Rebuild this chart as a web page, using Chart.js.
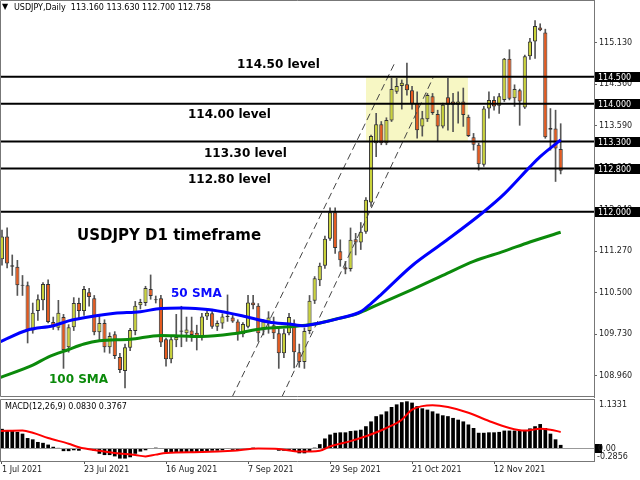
<!DOCTYPE html>
<html>
<head>
<meta charset="utf-8">
<script src="https://cdn.jsdelivr.net/npm/chart.js@4.4.1/dist/chart.umd.min.js"></script>
<style>
    html, body { margin: 0; padding: 0; background: #fff; }
    #wrap { position: relative; width: 640px; height: 480px; overflow: hidden; }
    canvas { position: absolute; left: 0; }
    #main { top: 0; }
    #macd { top: 398px; }
</style>
</head>
<body>
<div id="wrap">
    <canvas id="main" width="640" height="398"></canvas>
    <canvas id="macd" width="640" height="82"></canvas>
</div>
<script>
/* ---- data (daily bars, 1 Jul 2021 .. 1 Dec 2021, index = bar number) ---- */
var tickIdx    = [0, 16, 32, 48, 64, 80, 96];
var tickLabels = ['1 Jul 2021', '23 Jul 2021', '16 Aug 2021', '7 Sep 2021', '29 Sep 2021', '21 Oct 2021', '12 Nov 2021'];

var opens = [
    111.12, 111.54, 111.01, 110.98, 110.63, 110.64, 109.80, 110.16, 110.36, 110.66,
    109.96, 109.85, 110.05, 109.49, 109.86, 110.31, 110.16, 110.51, 110.40, 109.77,
    109.94, 109.49, 109.73, 109.31, 109.05, 109.48, 109.79, 110.27, 110.31, 110.57,
    110.38, 110.40, 109.64, 109.27, 109.62, 109.80, 109.75, 109.80, 109.76, 109.68,
    110.06, 110.12, 109.87, 109.93, 110.05, 110.04, 109.97, 109.73, 109.87, 110.32,
    110.26, 109.80, 109.97, 109.90, 109.75, 109.38, 109.75, 109.93, 109.40, 109.22,
    109.79, 110.35, 110.73, 111.00, 111.50, 111.99, 111.27, 110.97, 110.94, 111.49,
    111.43, 111.63, 112.17, 113.27, 113.62, 113.27, 113.69, 114.22, 114.33, 114.36,
    114.25, 114.01, 113.58, 113.71, 114.14, 113.81, 113.58, 114.12, 114.04, 113.98,
    114.04, 113.76, 113.38, 113.24, 112.87, 113.91, 114.07, 113.96, 114.07, 114.83,
    114.10, 114.25, 113.93, 114.88, 115.15, 115.41, 115.32, 113.52, 113.54, 113.16
];
var highs = [
    111.66, 111.70, 111.20, 111.10, 110.82, 110.70, 110.31, 110.46, 110.69, 110.74,
    110.05, 110.36, 110.10, 109.91, 110.41, 110.40, 110.62, 110.58, 110.45, 110.10,
    110.00, 109.76, 109.78, 109.38, 109.55, 109.84, 110.34, 110.38, 110.62, 110.83,
    110.44, 110.45, 109.66, 109.70, 110.10, 110.25, 110.05, 110.05, 109.90, 110.12,
    110.16, 110.15, 109.98, 110.11, 110.46, 110.08, 110.00, 109.95, 110.45, 110.45,
    110.30, 110.00, 110.15, 110.05, 109.83, 109.83, 110.12, 110.00, 109.55, 109.85,
    110.45, 110.80, 111.05, 111.55, 112.07, 112.07, 111.48, 111.08, 111.70, 111.60,
    111.80, 112.26, 113.42, 113.82, 113.67, 113.74, 114.47, 114.47, 114.44, 114.75,
    114.32, 114.22, 113.86, 114.19, 114.19, 113.88, 114.01, 114.47, 114.19, 114.22,
    114.29, 113.79, 113.45, 113.27, 113.95, 114.22, 114.13, 114.19, 114.84, 115.00,
    114.35, 114.27, 114.90, 115.21, 115.54, 115.48, 115.38, 113.91, 113.88, 113.63
];
var lows = [
    111.01, 110.96, 110.82, 110.45, 110.45, 109.57, 109.75, 109.99, 110.18, 109.94,
    109.82, 109.81, 109.10, 109.40, 109.80, 110.03, 110.08, 110.25, 109.72, 109.60,
    109.40, 109.38, 109.28, 109.02, 108.74, 109.43, 109.72, 110.20, 110.26, 110.38,
    110.31, 109.50, 109.14, 109.20, 109.50, 109.50, 109.60, 109.60, 109.44, 109.62,
    110.00, 109.84, 109.80, 109.84, 109.97, 109.95, 109.62, 109.68, 109.85, 110.20,
    109.60, 109.72, 109.75, 109.65, 109.10, 109.30, 109.72, 109.11, 109.12, 109.10,
    109.74, 110.30, 110.63, 110.95, 111.47, 111.23, 110.99, 110.85, 110.90, 111.20,
    111.30, 111.60, 112.10, 113.02, 113.24, 113.24, 113.67, 114.19, 113.90, 114.16,
    113.90, 113.36, 113.40, 113.67, 113.80, 113.30, 113.55, 113.51, 113.48, 113.64,
    113.58, 113.39, 113.14, 112.77, 112.84, 113.73, 113.88, 113.82, 114.04, 114.07,
    113.95, 113.60, 113.91, 114.82, 114.84, 115.35, 113.36, 113.14, 112.56, 112.70
];
var closes = [
    111.54, 111.04, 110.98, 110.64, 110.65, 109.80, 110.13, 110.38, 110.66, 109.96,
    109.86, 110.13, 109.44, 109.86, 110.31, 110.16, 110.57, 110.42, 109.77, 109.94,
    109.49, 109.70, 109.33, 109.07, 109.49, 109.81, 110.26, 110.33, 110.59, 110.44,
    110.36, 109.58, 109.27, 109.64, 109.68, 109.78, 109.82, 109.72, 109.70, 110.06,
    110.13, 109.87, 109.94, 110.06, 110.07, 109.97, 109.74, 109.92, 110.32, 110.27,
    109.75, 109.97, 110.04, 109.75, 109.38, 109.75, 110.05, 109.40, 109.22, 109.79,
    110.35, 110.77, 111.00, 111.50, 111.99, 111.33, 111.10, 110.93, 111.48, 111.43,
    111.63, 112.22, 113.40, 113.62, 113.27, 113.70, 114.27, 114.33, 114.39, 114.25,
    114.00, 113.51, 113.73, 114.16, 113.83, 113.58, 113.98, 113.98, 113.98, 114.04,
    113.79, 113.40, 113.24, 112.88, 113.91, 114.07, 113.95, 114.14, 114.83, 114.09,
    114.27, 114.04, 114.88, 115.15, 115.44, 115.36, 113.38, 113.55, 113.17, 112.76
];

var sma50Idx = [-0.4, 5, 10, 13, 18, 22, 27, 31, 35, 39, 41, 47, 52, 56, 59, 61, 66, 70, 72, 74, 80, 86, 94, 98, 103, 105, 109];
var sma50    = [109.59, 109.81, 109.89, 109.98, 110.07, 110.12, 110.15, 110.21, 110.22, 110.20, 110.18, 110.07, 109.96, 109.92, 109.89, 109.92, 110.03, 110.15, 110.30, 110.47, 111.00, 111.42, 112.00, 112.33, 112.83, 113.02, 113.33];
var sma100Idx = [-0.4, 6, 9, 13, 16, 19, 25, 31, 35, 39, 45, 51, 56, 61, 65, 69, 71, 74, 80, 86, 92, 98, 103, 109];
var sma100    = [108.93, 109.16, 109.31, 109.45, 109.55, 109.61, 109.64, 109.71, 109.70, 109.69, 109.74, 109.84, 109.87, 109.92, 110.01, 110.10, 110.18, 110.31, 110.56, 110.82, 111.08, 111.27, 111.44, 111.62];

var levels      = [114.5, 114.0, 113.3, 112.8, 112.0];
var levelLabels = ['114.500', '114.000', '113.300', '112.800', '112.000'];
var priceTicks  = [108.96, 109.73, 110.50, 111.27, 112.04, 112.81, 113.59, 114.36, 115.13];

/* hand-drawn channel and the consolidation box (bar index, price) */
var channelLow  = [[44.9, 108.57], [76.7, 114.77]];
var channelHigh = [[54.6, 108.57], [84.1, 114.48]];
var rangeBoxIdx = [71.0, 90.9];
var rangeBoxTop = 114.5;
var rangeBoxBottom = 113.3;

var macdHist = [
    0.45, 0.41, 0.40, 0.38, 0.34, 0.24, 0.21, 0.15, 0.13, 0.09,
    0.04, 0.015, -0.06, -0.06, -0.04, -0.05, 0.0, -0.01, -0.05, -0.12,
    -0.15, -0.15, -0.18, -0.23, -0.23, -0.20, -0.12, -0.07, -0.04, 0.0,
    0.02, -0.01, -0.09, -0.10, -0.10, -0.10, -0.10, -0.10, -0.10, -0.09,
    -0.07, -0.05, -0.05, -0.04, -0.01, -0.03, -0.05, -0.03, -0.01, 0.02,
    0.0, -0.01, 0.0, -0.01, -0.05, -0.05, -0.04, -0.07, -0.11, -0.11,
    -0.07, 0.02, 0.10, 0.23, 0.32, 0.36, 0.37, 0.37, 0.40, 0.41,
    0.43, 0.51, 0.62, 0.74, 0.78, 0.85, 0.95, 1.01, 1.06, 1.08,
    1.05, 0.97, 0.92, 0.89, 0.85, 0.80, 0.76, 0.74, 0.70, 0.66,
    0.62, 0.55, 0.47, 0.36, 0.36, 0.37, 0.37, 0.38, 0.41, 0.41,
    0.41, 0.41, 0.41, 0.46, 0.51, 0.56, 0.47, 0.34, 0.21, 0.083
];
var signalIdx = [-0.4, 4, 6, 9, 13, 15, 19, 22, 26, 28, 30, 32, 39, 45, 50, 54, 58, 62, 64, 68, 71, 75, 78, 80, 82, 84, 87, 91, 95, 99, 102, 105, 107, 109];
var signal    = [0.40, 0.41, 0.36, 0.24, 0.11, 0.03, -0.05, -0.10, -0.15, -0.18, -0.14, -0.10, -0.08, -0.05, 0.0, -0.01, -0.07, -0.05, 0.05, 0.17, 0.28, 0.47, 0.66, 0.89, 0.97, 0.99, 0.95, 0.82, 0.63, 0.47, 0.41, 0.45, 0.43, 0.38];

/* ---- look ---- */
var X_MIN = -0.39, X_MAX = 115.5;
var BULL = '#c9d23a', BEAR = '#e65a1e';
var SMALL = '8px "DejaVu Sans"';

var notes = [
    { text: '114.50 level',        x: 237, y: 68,    color: '#000',    font: 'bold 12px "DejaVu Sans"' },
    { text: '114.00 level',        x: 188, y: 118,   color: '#000',    font: 'bold 12px "DejaVu Sans"' },
    { text: '113.30 level',        x: 204, y: 157,   color: '#000',    font: 'bold 12px "DejaVu Sans"' },
    { text: '112.80 level',        x: 188, y: 183,   color: '#000',    font: 'bold 12px "DejaVu Sans"' },
    { text: 'USDJPY D1 timeframe', x: 77,  y: 239.5, color: '#000',    font: 'bold 15px "DejaVu Sans"' },
    { text: '50 SMA',              x: 171, y: 297,   color: '#0a0aff', font: 'bold 12px "DejaVu Sans"' },
    { text: '100 SMA',             x: 49,  y: 382.5, color: '#0b8a0b', font: 'bold 12px "DejaVu Sans"' }
];

function pairs(xs, ys) {
    return xs.map(function (x, i) { return { x: x, y: ys[i] }; });
}

var bodies = [], wicks = [];
for (var i = 0; i < opens.length; i++) {
    var o = opens[i], c = closes[i];
    if (Math.abs(o - c) < 0.02) c = o + (c >= o ? 0.02 : -0.02);   // keep doji visible
    bodies.push({ x: i, y: [o, c] });
    wicks.push({ x: i, y: [lows[i], highs[i]] });
}

var datasets = [
    { type: 'line', data: pairs(sma50Idx, sma50), borderColor: '#0000ff', borderWidth: 3,
      pointRadius: 0, cubicInterpolationMode: 'monotone', order: 0 },
    { type: 'line', data: pairs(sma100Idx, sma100), borderColor: '#0b8a0b', borderWidth: 3,
      pointRadius: 0, cubicInterpolationMode: 'monotone', order: 1 }
];
levels.forEach(function (lvl) {
    datasets.push({ type: 'line', data: [{ x: X_MIN, y: lvl }, { x: X_MAX, y: lvl }],
        borderColor: '#000', borderWidth: 2, pointRadius: 0, order: 2 });
});
[channelLow, channelHigh].forEach(function (seg) {
    datasets.push({ type: 'line', data: seg.map(function (p) { return { x: p[0], y: p[1] }; }),
        borderColor: '#444', borderWidth: 1, borderDash: [7, 4], pointRadius: 0, order: 3 });
});
datasets.push({
    type: 'bar', data: bodies, grouped: false, order: 4,
    backgroundColor: function (ctx) { return closes[ctx.dataIndex] >= opens[ctx.dataIndex] ? BULL : BEAR; },
    borderColor: '#333', borderWidth: 1, borderSkipped: false,
    categoryPercentage: 0.85, barPercentage: 0.95
});
datasets.push({
    type: 'bar', data: wicks, grouped: false, order: 5,
    backgroundColor: '#555', borderWidth: 0, barThickness: 1
});
datasets.push({
    type: 'line', data: [{ x: rangeBoxIdx[0], y: rangeBoxTop }, { x: rangeBoxIdx[1], y: rangeBoxTop }],
    fill: { value: rangeBoxBottom }, backgroundColor: '#f7f7c4', borderWidth: 0, pointRadius: 0, order: 6
});

var mainDeco = {
    id: 'mainDeco',
    afterDatasetsDraw: function (chart) {
        var ctx = chart.ctx;
        ctx.save();
        ctx.textBaseline = 'alphabetic';
        notes.forEach(function (n) {
            ctx.font = n.font;
            ctx.fillStyle = n.color;
            ctx.fillText(n.text, n.x, n.y);
        });
        ctx.restore();
    },
    afterDraw: function (chart) {
        var ctx = chart.ctx, a = chart.chartArea, ys = chart.scales.y;
        ctx.save();
        ctx.strokeStyle = '#777';
        ctx.lineWidth = 1;
        ctx.beginPath();
        ctx.moveTo(a.right, 0.5); ctx.lineTo(0.5, 0.5); ctx.lineTo(0.5, a.bottom - 0.5); ctx.lineTo(a.right, a.bottom - 0.5);
        ctx.stroke();

        ctx.font = SMALL;
        ctx.fillStyle = '#000';
        ctx.textBaseline = 'middle';
        ctx.fillText('\u25BC', 2, 7);
        ctx.fillText('USDJPY,Daily  113.160 113.630 112.700 112.758', 14, 7.5);

        levels.forEach(function (lvl, k) {
            var y = Math.round(ys.getPixelForValue(lvl));
            ctx.fillStyle = '#000';
            ctx.fillRect(a.right + 1, y - 5, 46, 10);
            ctx.fillStyle = '#fff';
            ctx.fillText(levelLabels[k], a.right + 4, y + 0.5);
        });
        ctx.restore();
    }
};

new Chart(document.getElementById('main').getContext('2d'), {
    type: 'bar',
    data: { datasets: datasets },
    options: {
        responsive: false, animation: false, devicePixelRatio: 1,
        layout: { padding: { left: 0, top: 0, right: 0, bottom: 1 } },
        plugins: { legend: { display: false }, tooltip: { enabled: false } },
        scales: {
            x: { type: 'linear', min: X_MIN, max: X_MAX, offset: false, display: false },
            y: {
                position: 'right', min: 108.57, max: 115.92,
                afterBuildTicks: function (ax) { ax.ticks = priceTicks.map(function (v) { return { value: v }; }); },
                afterFit: function (ax) { ax.width = 46; ax.paddingTop = 0; ax.paddingBottom = 0; },
                ticks: { callback: function (v) { return v.toFixed(3); }, font: { family: 'DejaVu Sans', size: 8 }, color: '#222', padding: 2 },
                grid: { drawOnChartArea: false, tickLength: 3, color: '#666' },
                border: { color: '#777' }
            }
        }
    },
    plugins: [mainDeco]
});

/* ---- MACD panel ---- */
var macdDeco = {
    id: 'macdDeco',
    afterDraw: function (chart) {
        var ctx = chart.ctx, a = chart.chartArea;
        ctx.save();
        ctx.strokeStyle = '#777';
        ctx.lineWidth = 1;
        ctx.beginPath();
        ctx.moveTo(a.right, a.top + 0.5); ctx.lineTo(0.5, a.top + 0.5); ctx.lineTo(0.5, a.bottom);
        ctx.stroke();

        ctx.font = SMALL;
        ctx.textBaseline = 'middle';
        ctx.fillStyle = '#000';
        ctx.fillText('MACD(12,26,9) 0.0830 0.3767', 5, 9);
        ctx.fillStyle = '#222';
        ctx.fillText('1.1331', a.right + 5, 7);
        ctx.fillStyle = '#000';
        ctx.fillRect(a.right + 1, 46, 7, 9);
        ctx.fillStyle = '#222';
        ctx.fillText('0.00', a.right + 4, 51);
        ctx.fillText('-0.2856', a.right + 3, 59);
        ctx.restore();
    }
};

new Chart(document.getElementById('macd').getContext('2d'), {
    type: 'bar',
    data: {
        datasets: [
            { type: 'line', data: pairs(signalIdx, signal), borderColor: '#ff0000', borderWidth: 2,
              pointRadius: 0, cubicInterpolationMode: 'monotone', order: 0 },
            { type: 'bar', data: macdHist.map(function (v, i) { return { x: i, y: v }; }),
              backgroundColor: '#000', categoryPercentage: 0.8, barPercentage: 0.9, order: 1 }
        ]
    },
    options: {
        responsive: false, animation: false, devicePixelRatio: 1,
        layout: { padding: { left: 0, top: 1, right: 0, bottom: 0 } },
        plugins: { legend: { display: false }, tooltip: { enabled: false } },
        scales: {
            x: {
                type: 'linear', min: X_MIN, max: X_MAX, offset: false,
                afterBuildTicks: function (ax) { ax.ticks = tickIdx.map(function (v) { return { value: v }; }); },
                afterFit: function (ax) { ax.height = 19; ax.paddingLeft = 0; ax.paddingRight = 0; },
                ticks: {
                    autoSkip: false, maxRotation: 0, align: 'start', padding: 1, color: '#222',
                    font: { family: 'DejaVu Sans', size: 8 },
                    callback: function (v, i) { return tickLabels[i]; }
                },
                grid: { drawOnChartArea: false, tickLength: 3, color: '#555', offset: false },
                border: { color: '#777' }
            },
            y: {
                position: 'right', min: -0.2856, max: 1.1331,
                afterBuildTicks: function (ax) { ax.ticks = [{ value: 0 }]; },
                afterFit: function (ax) { ax.width = 46; ax.paddingTop = 0; ax.paddingBottom = 0; },
                ticks: { display: false },
                grid: { color: '#999', tickLength: 3 },
                border: { color: '#777' }
            }
        }
    },
    plugins: [macdDeco]
});
</script>
</body>
</html>
